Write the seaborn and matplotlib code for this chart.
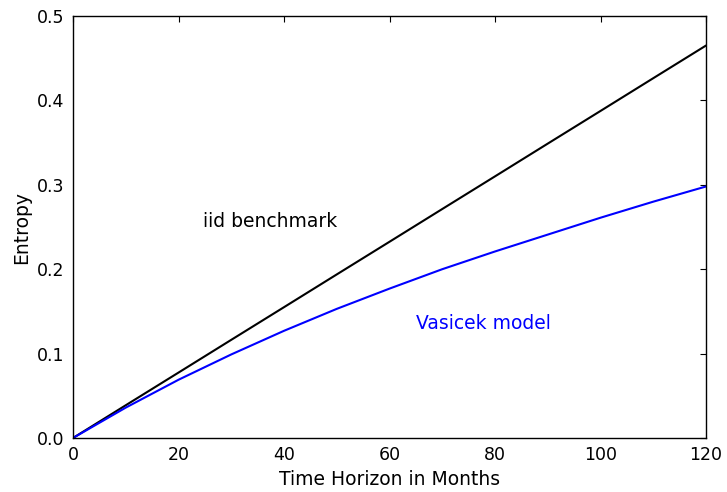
import matplotlib
matplotlib.use("Agg")
import matplotlib.pyplot as plt
import seaborn as sns
import pandas as pd

months = [0, 10, 20, 30, 40, 50, 60, 70, 80, 90, 100, 110, 120]
iid_entropy = [0.0, 0.0388, 0.0775, 0.1163, 0.155, 0.1938, 0.2325, 0.2713, 0.31, 0.3488, 0.3875, 0.4263, 0.465]
vasicek_entropy = [0.0, 0.036, 0.069, 0.099, 0.127, 0.153, 0.177, 0.200, 0.221, 0.241, 0.261, 0.280, 0.298]

x_ticks = [0, 20, 40, 60, 80, 100, 120]
y_ticks = [0.0, 0.1, 0.2, 0.3, 0.4, 0.5]

df = pd.DataFrame({"Months": months, "iid": iid_entropy, "vasicek": vasicek_entropy})

sns.set_style("white")
plt.rcParams.update({
    "font.family": ["DejaVu Sans"],
    "font.size": 13,
    "text.color": "black",
    "axes.labelcolor": "black",
    "xtick.color": "black",
    "ytick.color": "black",
    "xtick.direction": "in",
    "ytick.direction": "in",
    "xtick.top": True,
    "ytick.right": True,
    "xtick.major.size": 4,
    "ytick.major.size": 4,
    "axes.linewidth": 1.0,
    "axes.edgecolor": "black",
})

fig = plt.figure(figsize=(7.27, 4.92), dpi=100)
ax = fig.add_axes([73 / 727, 1 - 438 / 492, 633 / 727, 422 / 492])

sns.lineplot(data=df, x="Months", y="iid", ax=ax, color="black", linewidth=1.5)
sns.lineplot(data=df, x="Months", y="vasicek", ax=ax, color="blue", linewidth=1.5)

ax.set_xlim(0, 120)
ax.set_ylim(0, 0.5)
ax.set_xticks(x_ticks)
ax.set_yticks(y_ticks)
ax.set_yticklabels([f"{v:.1f}" for v in y_ticks])
ax.tick_params(labelsize=12.5, colors="black", pad=6)
ax.set_xlabel("Time Horizon in Months", fontsize=13.5, color="black")
ax.set_ylabel("Entropy", fontsize=13.5, color="black")
for s in ax.spines.values():
    s.set_visible(True)
    s.set_color("black")

ax.text(24.6, 0.256, "iid benchmark", color="black", fontsize=13.5, va="center", ha="left")
ax.text(65, 0.136, "Vasicek model", color="blue", fontsize=13.5, va="center", ha="left")

fig.savefig("out.png", dpi=100)
